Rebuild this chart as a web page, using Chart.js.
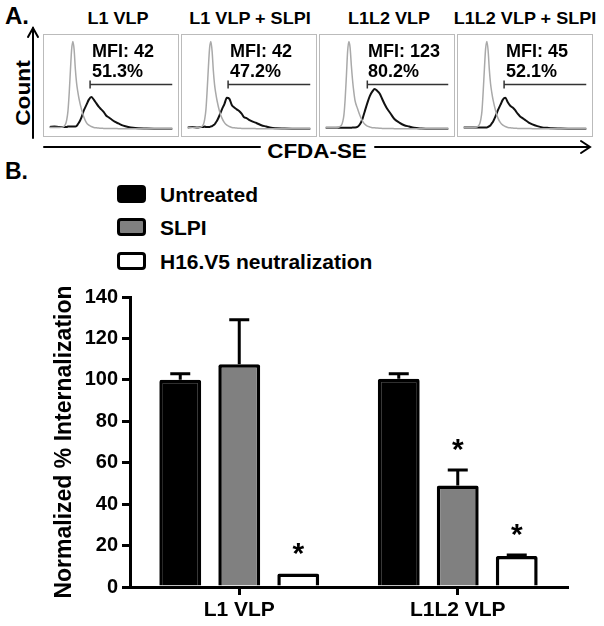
<!DOCTYPE html>
<html><head><meta charset="utf-8">
<script src="https://cdn.jsdelivr.net/npm/chart.js@4.4.1/dist/chart.umd.min.js"></script>
<style>
body{margin:0;background:#fff;font-family:"Liberation Sans",Arial,sans-serif;}
#page{position:relative;width:604px;height:626px;overflow:hidden;background:#fff;}
.t{position:absolute;font-weight:bold;color:#000;white-space:nowrap;line-height:1;}
.c{transform:translate(-50%,-50%);}
.l{transform:translateY(-50%);}
.box{position:absolute;top:34px;width:136px;height:103px;border:1px solid #bbb;box-sizing:border-box;}
.box canvas{display:block;}
.sw{position:absolute;left:117px;width:29px;height:18px;border:3px solid #000;border-radius:4px;box-sizing:border-box;}
#bar{position:absolute;left:0;top:275px;}
svg{position:absolute;left:0;top:0;}
</style></head><body><div id="page">
<svg width="604" height="160">
  <g stroke="#000" stroke-width="2" fill="none" stroke-linecap="round">
    <line x1="33" y1="138" x2="33" y2="28"/>
    <polyline points="28,37 33,28 38,37"/>
    <line x1="44" y1="147" x2="260" y2="147"/>
    <line x1="375" y1="147" x2="589" y2="147"/>
    <polyline points="581,141 590,147 581,153"/>
  </g>
</svg>
<div id="overlay"></div>
<canvas id="bar" width="604" height="351"></canvas>
</div>
<script>
// ---------- Panel A data (flow histograms, % of max count) ----------
const panelTitles = ['L1 VLP', 'L1 VLP + SLPI', 'L1L2 VLP', 'L1L2 VLP + SLPI'];
const mfiValues = [42, 42, 123, 45];
const gatedPct = ['51.3%', '47.2%', '80.2%', '52.1%'];
const gateStart = [33, 33, 34, 33];
const gateLevel = 50;
const bins = [0,4,8,11,13,14,15,16,17,18,19,20,21,22,23,24,26,28,30,32,34,36,38,40,42,44,46,48,50,53,56,60,64,68,72,78,85,92,100];
const control1 = [1.5,1.5,1.5,2,5,10,20,40,66,90,99,90,68,52,42,34,22,13,7,4,2.5,1.5,1,0.8,0.5,0.4,0.3,0.3,0.2,0.2,0.1,0,0,0,0,0,0,0,0];
const control2 = [1.5,1.5,1.5,2,5,11,22,44,70,92,99,88,66,50,40,32,20,12,7,4,2.5,1.5,1,0.8,0.5,0.4,0.3,0.3,0.2,0.2,0.1,0,0,0,0,0,0,0,0];
const control3 = [1,1,1,2,4,8,16,34,60,88,99,92,72,55,42,32,23,15,9,5,3,2,1.2,1,0.7,0.5,0.4,0.3,0.2,0.2,0.1,0,0,0,0,0,0,0,0];
const control4 = [1.5,1.5,1.5,2,5,10,20,42,68,91,99,89,67,51,41,33,21,12,7,4,2.5,1.5,1,0.8,0.5,0.4,0.3,0.3,0.2,0.2,0.1,0,0,0,0,0,0,0,0];
const stained1 = [2,2.5,2,2,2,2,2.5,2.5,2.5,2.5,2.5,2.5,2.5,3,5,7,13,21,27,33,36,33,29,25,22,19,15,13,11,8,6,3.5,2,1,0.5,0.2,0,0,0];
const stained2 = [1.5,2,1.5,2,2,2.5,2,2,2,2,2.5,3,4,5,7,9,15,22,28,35,34,27,24,22,20,17,13,12,10,8,6.5,4,2.5,1,0.5,0.2,0,0,0];
const stained3 = [1,1,1,1,1,1,1,1,1,1,1,1,1,1.5,1.5,1.5,2,5,11,20,29,37,42,45,43,40,34,28,23,17,11,7,4,2.5,1,0.3,0,0,0];
const stained4 = [1.5,1.5,1.5,1.5,1.5,1.5,1.5,1.5,1.5,1.5,1.5,2,3,4,6,8,14,21,27,33,35,30,26,24,21,17,14,12,10,7,5,3,1.5,1,0.5,0.2,0,0,0];
const controls = [control1, control2, control3, control4];
const stained = [stained1, stained2, stained3, stained4];

// ---------- Panel B data ----------
const categories = ['L1 VLP', 'L1L2 VLP'];
const seriesNames = ['Untreated', 'SLPI', 'H16.V5 neutralization'];
const seriesColors = ['#000000', '#808080', '#ffffff'];
const untreated = [100, 100.5];
const untreatedErr = [3, 2.5];
const untreatedSig = [false, false];
const slpi = [107.5, 49];
const slpiErr = [21.5, 7.5];
const slpiSig = [false, true];
const h16 = [6.5, 15];
const h16Err = [0, 0.5];
const h16Sig = [true, true];
const yTicks = [0, 20, 40, 60, 80, 100, 120, 140];

const FONT = '"Liberation Sans", Arial, sans-serif';
Chart.defaults.font.family = FONT;
Chart.defaults.color = '#000';

// ---------- overlay text ----------
const ov = document.getElementById('overlay');
function addText(txt, cls, x, y, size, extra) {
  const d = document.createElement('div');
  d.className = 't ' + cls;
  d.textContent = txt;
  d.style.left = x + 'px'; d.style.top = y + 'px'; d.style.fontSize = size + 'px';
  if (extra) Object.assign(d.style, extra);
  ov.appendChild(d);
  return d;
}
addText('A.', 'l', 5, 16, 24);
addText('B.', 'l', 5, 171, 23);
addText('Count', 'c', 22, 93, 21, {transform:'translate(-50%,-50%) rotate(-90deg) scaleX(1.08)'});
addText('CFDA-SE', 'c', 317, 151, 20, {transform:'translate(-50%,-50%) scaleX(1.12)'});
const titleCenters = [118, 250, 389, 525];
const boxLefts = [43, 181, 319, 457];
panelTitles.forEach((t, i) => addText(t, 'c', titleCenters[i], 18, 17, {transform:'translate(-50%,-50%) scaleX(1.06)'}));

// ---------- histogram charts ----------
boxLefts.forEach((bx, i) => {
  const box = document.createElement('div');
  box.className = 'box';
  box.style.left = bx + 'px';
  const cv = document.createElement('canvas');
  cv.width = 134; cv.height = 101;
  box.appendChild(cv);
  ov.appendChild(box);
  addText('MFI: ' + mfiValues[i], 'l', bx + 49, 51, 18);
  addText(gatedPct[i], 'l', bx + 49, 71, 18);
  new Chart(cv, {
    type: 'line',
    data: {
      datasets: [
        {data: bins.map((x, k) => ({x, y: controls[i][k]})), borderColor: '#a9a9a9', borderWidth: 1.5,
         pointRadius: 0, cubicInterpolationMode: 'monotone', tension: 0.3},
        {data: bins.map((x, k) => ({x, y: stained[i][k]})), borderColor: '#111', borderWidth: 2,
         pointRadius: 0, cubicInterpolationMode: 'monotone', tension: 0.3},
        {data: [{x: gateStart[i], y: gateLevel}, {x: 100, y: gateLevel}], borderColor: '#333', borderWidth: 1.5,
         pointStyle: 'line', pointRotation: 90, pointRadius: [4, 0], pointBorderColor: '#333', pointBorderWidth: 1.5}
      ]
    },
    options: {
      responsive: false, animation: false, events: [],
      layout: {padding: 0},
      plugins: {legend: {display: false}, tooltip: {enabled: false}},
      scales: {
        x: {type: 'linear', min: 0, max: 100, display: false},
        y: {min: -2, max: 100, display: false}
      }
    }
  });
});

// ---------- legend ----------
const swTops = [185, 218, 252];
seriesNames.forEach((n, i) => {
  const s = document.createElement('div');
  s.className = 'sw';
  s.style.top = swTops[i] + 'px';
  s.style.background = seriesColors[i];
  ov.appendChild(s);
  addText(n, 'l', 160, swTops[i] + 9, 21);
});

// ---------- bar chart ----------
const errPlugin = {
  id: 'errbars',
  afterDatasetsDraw(chart) {
    const c = chart.ctx, ys = chart.scales.y;
    chart.data.datasets.forEach((ds, di) => {
      const meta = chart.getDatasetMeta(di);
      meta.data.forEach((bar, j) => {
        const v = ds.data[j], e = ds.err[j];
        const yTop = ys.getPixelForValue(v);
        const yE = ys.getPixelForValue(v + e);
        c.save();
        c.strokeStyle = '#000'; c.lineWidth = 3; c.lineCap = 'butt';
        if (e > 0) {
          c.beginPath();
          c.moveTo(bar.x, yTop); c.lineTo(bar.x, yE);
          c.moveTo(bar.x - 10, yE); c.lineTo(bar.x + 10, yE);
          c.stroke();
        }
        if (ds.sig[j]) {
          c.fillStyle = '#000';
          c.font = 'bold 30px ' + FONT;
          c.textAlign = 'center'; c.textBaseline = 'alphabetic';
          c.fillText('*', bar.x, yE - 11);
        }
        c.restore();
      });
    });
  }
};

const values = [untreated, slpi, h16];
const errs = [untreatedErr, slpiErr, h16Err];
const sigs = [untreatedSig, slpiSig, h16Sig];
new Chart(document.getElementById('bar'), {
  type: 'bar',
  data: {
    labels: categories,
    datasets: seriesNames.map((n, i) => ({
      label: n, data: values[i], err: errs[i], sig: sigs[i],
      backgroundColor: seriesColors[i], borderColor: '#000', borderWidth: 3.5, borderRadius: 2,
      borderSkipped: 'bottom'
    }))
  },
  options: {
    responsive: false, animation: false, events: [],
    layout: {padding: {left: 0, right: 37, top: 22, bottom: 0}},
    datasets: {bar: {categoryPercentage: 0.81, barPercentage: 0.71}},
    plugins: {legend: {display: false}, tooltip: {enabled: false}},
    scales: {
      x: {
        grid: {display: true, drawOnChartArea: false, offset: false, tickLength: 8, lineWidth: 3, color: '#000'},
        border: {display: true, width: 3, color: '#000'},
        ticks: {font: {size: 21, weight: 'bold'}, color: '#000', padding: 3},
        afterFit(s) { s.height = 39; }
      },
      y: {
        min: 0, max: 140,
        afterBuildTicks(s) { s.ticks = yTicks.map(v => ({value: v})); },
        grid: {drawOnChartArea: false, tickLength: 8, lineWidth: 3, color: '#000'},
        border: {display: true, width: 3, color: '#000'},
        ticks: {font: {size: 20, weight: 'bold'}, color: '#000', padding: 4},
        title: {display: true, text: 'Normalized % Internalization', color: '#000',
                font: {size: 23, weight: 'bold'}, padding: {top: 51, bottom: 0}},
        afterFit(s) { s.width = 130; }
      }
    }
  },
  plugins: [errPlugin]
});
</script>
</body></html>
